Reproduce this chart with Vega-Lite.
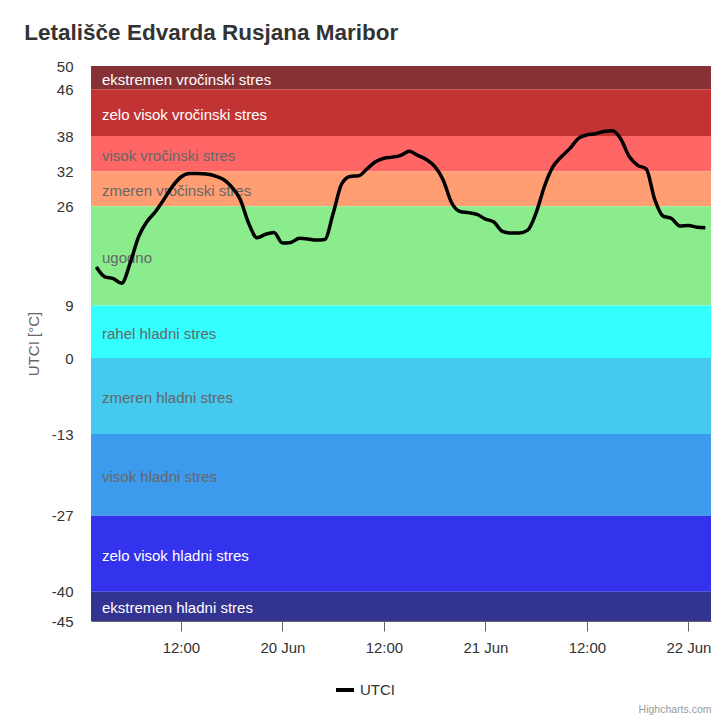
{
  "$schema": "https://vega.github.io/schema/vega-lite/v6.json",
  "width": 620,
  "height": 555,
  "padding": {"left": 24, "top": 21, "right": 4, "bottom": 0},
  "background": "white",
  "title": {"text": "Letališče Edvarda Rusjana Maribor", "anchor": "start", "fontSize": 22.5, "fontWeight": "bold", "color": "#333333", "offset": 15, "dx": -2},
  "datasets": {
    "bands": [
      {"label": "ekstremen vročinski stres", "lo": 46, "hi": 50},
      {"label": "zelo visok vročinski stres", "lo": 38, "hi": 46},
      {"label": "visok vročinski stres", "lo": 32, "hi": 38},
      {"label": "zmeren vročinski stres", "lo": 26, "hi": 32},
      {"label": "ugodno", "lo": 9, "hi": 26},
      {"label": "rahel hladni stres", "lo": 0, "hi": 9},
      {"label": "zmeren hladni stres", "lo": -13, "hi": 0},
      {"label": "visok hladni stres", "lo": -27, "hi": -13},
      {"label": "zelo visok hladni stres", "lo": -40, "hi": -27},
      {"label": "ekstremen hladni stres", "lo": -45, "hi": -40}
    ],
    "series": [
      {"time": "2024-06-19T02:00", "utci": 15.6},
      {"time": "2024-06-19T03:00", "utci": 13.9},
      {"time": "2024-06-19T04:00", "utci": 13.6},
      {"time": "2024-06-19T05:00", "utci": 12.8},
      {"time": "2024-06-19T06:00", "utci": 16.3},
      {"time": "2024-06-19T07:00", "utci": 20.8},
      {"time": "2024-06-19T08:00", "utci": 23.4},
      {"time": "2024-06-19T09:00", "utci": 25.1},
      {"time": "2024-06-19T10:00", "utci": 27.2},
      {"time": "2024-06-19T11:00", "utci": 29.4},
      {"time": "2024-06-19T12:00", "utci": 31.0},
      {"time": "2024-06-19T13:00", "utci": 31.6},
      {"time": "2024-06-19T14:00", "utci": 31.6},
      {"time": "2024-06-19T15:00", "utci": 31.5},
      {"time": "2024-06-19T16:00", "utci": 31.2},
      {"time": "2024-06-19T17:00", "utci": 30.6},
      {"time": "2024-06-19T18:00", "utci": 29.3},
      {"time": "2024-06-19T19:00", "utci": 27.2},
      {"time": "2024-06-19T20:00", "utci": 23.1},
      {"time": "2024-06-19T21:00", "utci": 20.6},
      {"time": "2024-06-19T22:00", "utci": 21.2},
      {"time": "2024-06-19T23:00", "utci": 21.5},
      {"time": "2024-06-20T00:00", "utci": 19.7},
      {"time": "2024-06-20T01:00", "utci": 19.8},
      {"time": "2024-06-20T02:00", "utci": 20.5},
      {"time": "2024-06-20T03:00", "utci": 20.4},
      {"time": "2024-06-20T04:00", "utci": 20.2},
      {"time": "2024-06-20T05:00", "utci": 20.3},
      {"time": "2024-06-20T06:00", "utci": 24.8},
      {"time": "2024-06-20T07:00", "utci": 29.8},
      {"time": "2024-06-20T08:00", "utci": 31.1},
      {"time": "2024-06-20T09:00", "utci": 31.2},
      {"time": "2024-06-20T10:00", "utci": 32.4},
      {"time": "2024-06-20T11:00", "utci": 33.6},
      {"time": "2024-06-20T12:00", "utci": 34.2},
      {"time": "2024-06-20T13:00", "utci": 34.4},
      {"time": "2024-06-20T14:00", "utci": 34.7},
      {"time": "2024-06-20T15:00", "utci": 35.4},
      {"time": "2024-06-20T16:00", "utci": 34.7},
      {"time": "2024-06-20T17:00", "utci": 34.0},
      {"time": "2024-06-20T18:00", "utci": 32.8},
      {"time": "2024-06-20T19:00", "utci": 30.5},
      {"time": "2024-06-20T20:00", "utci": 26.6},
      {"time": "2024-06-20T21:00", "utci": 25.1},
      {"time": "2024-06-20T22:00", "utci": 24.9},
      {"time": "2024-06-20T23:00", "utci": 24.6},
      {"time": "2024-06-21T00:00", "utci": 23.8},
      {"time": "2024-06-21T01:00", "utci": 23.3},
      {"time": "2024-06-21T02:00", "utci": 21.7},
      {"time": "2024-06-21T03:00", "utci": 21.4},
      {"time": "2024-06-21T04:00", "utci": 21.4},
      {"time": "2024-06-21T05:00", "utci": 21.9},
      {"time": "2024-06-21T06:00", "utci": 24.9},
      {"time": "2024-06-21T07:00", "utci": 29.5},
      {"time": "2024-06-21T08:00", "utci": 32.8},
      {"time": "2024-06-21T09:00", "utci": 34.5},
      {"time": "2024-06-21T10:00", "utci": 35.9},
      {"time": "2024-06-21T11:00", "utci": 37.6},
      {"time": "2024-06-21T12:00", "utci": 38.2},
      {"time": "2024-06-21T13:00", "utci": 38.4},
      {"time": "2024-06-21T14:00", "utci": 38.8},
      {"time": "2024-06-21T15:00", "utci": 38.9},
      {"time": "2024-06-21T16:00", "utci": 37.5},
      {"time": "2024-06-21T17:00", "utci": 34.5},
      {"time": "2024-06-21T18:00", "utci": 33.0},
      {"time": "2024-06-21T19:00", "utci": 32.4},
      {"time": "2024-06-21T20:00", "utci": 27.2},
      {"time": "2024-06-21T21:00", "utci": 24.3},
      {"time": "2024-06-21T22:00", "utci": 23.9},
      {"time": "2024-06-21T23:00", "utci": 22.6},
      {"time": "2024-06-22T00:00", "utci": 22.7},
      {"time": "2024-06-22T01:00", "utci": 22.4},
      {"time": "2024-06-22T02:00", "utci": 22.3}
    ]
  },
  "layer": [
    {
      "data": {"name": "bands"},
      "mark": {"type": "rect"},
      "encoding": {
        "y": {
          "field": "lo", "type": "quantitative", "title": "UTCI [°C]",
          "scale": {"domain": [-45, 50], "nice": false, "zero": false},
          "axis": {
            "values": [-45, -40, -27, -13, 0, 9, 26, 32, 38, 46, 50],
            "labelExpr": "'' + datum.value",
            "grid": false, "ticks": false, "domain": false,
            "labelFontSize": 15, "labelColor": "#333333", "labelPadding": 18,
            "labelFlush": false, "labelOverlap": false,
            "titleFontSize": 15, "titleColor": "#666666", "titleFontWeight": "normal", "titlePadding": 10
          }
        },
        "y2": {"field": "hi"},
        "fill": {
          "field": "label", "type": "nominal", "legend": null,
          "scale": {
            "domain": ["ekstremen vročinski stres", "zelo visok vročinski stres", "visok vročinski stres", "zmeren vročinski stres", "ugodno", "rahel hladni stres", "zmeren hladni stres", "visok hladni stres", "zelo visok hladni stres", "ekstremen hladni stres"],
            "range": ["#883135", "#c23434", "#ff6666", "#ff9e73", "#8aec8c", "#33ffff", "#45c9ee", "#3d9bee", "#3333ee", "#333392"]
          }
        }
      }
    },
    {
      "data": {"name": "bands"},
      "transform": [{"fold": ["lo", "hi"], "as": ["bound", "val"]}],
      "mark": {"type": "text", "align": "left", "baseline": "middle", "dx": 11, "dy": 2, "fontSize": 15},
      "encoding": {
        "x": {"datum": {"year": 2024, "month": 6, "date": 19, "hours": 1, "minutes": 22}, "type": "temporal", "title": "Highcharts.com"},
        "y": {"aggregate": "mean", "field": "val", "type": "quantitative", "title": "UTCI [°C]"},
        "text": {"field": "label", "type": "nominal"},
        "fill": {
          "condition": {"test": "indexof(['ekstremen vročinski stres', 'zelo visok vročinski stres', 'zelo visok hladni stres', 'ekstremen hladni stres'], datum.label) >= 0", "value": "#ffffff"},
          "value": "#666666"
        }
      }
    },
    {
      "data": {"name": "series"},
      "mark": {"type": "line", "interpolate": "monotone", "strokeWidth": 3.5},
      "encoding": {
        "x": {
          "field": "time", "type": "temporal", "title": "Highcharts.com",
          "scale": {"domain": [{"year": 2024, "month": 6, "date": 19, "hours": 1, "minutes": 22}, {"year": 2024, "month": 6, "date": 22, "hours": 2, "minutes": 40}]},
          "axis": {
            "values": [
              {"year": 2024, "month": 6, "date": 19, "hours": 12},
              {"year": 2024, "month": 6, "date": 20, "hours": 0},
              {"year": 2024, "month": 6, "date": 20, "hours": 12},
              {"year": 2024, "month": 6, "date": 21, "hours": 0},
              {"year": 2024, "month": 6, "date": 21, "hours": 12},
              {"year": 2024, "month": 6, "date": 22, "hours": 0}
            ],
            "labelExpr": "hours(datum.value) == 0 ? timeFormat(datum.value, '%-d %b') : timeFormat(datum.value, '%H:%M')",
            "grid": false, "tickSize": 10, "tickColor": "#666666", "domainColor": "#666666",
            "labelFontSize": 15, "labelColor": "#333333", "labelPadding": 9, "labelFlush": false,
            "titleAnchor": "end", "titleFontSize": 10.5, "titleColor": "#999999", "titleFontWeight": "normal", "titlePadding": 49
          }
        },
        "y": {"field": "utci", "type": "quantitative", "title": "UTCI [°C]"},
        "stroke": {
          "datum": "UTCI", "type": "nominal",
          "scale": {"range": ["#000000"]},
          "legend": {
            "title": null, "orient": "none", "legendX": 243, "legendY": 613,
            "symbolType": "stroke", "symbolStrokeWidth": 4, "symbolSize": 324,
            "labelFontSize": 15, "labelColor": "#333333"
          }
        }
      }
    }
  ],
  "config": {
    "font": "Liberation Sans",
    "view": {"stroke": null}
  }
}
